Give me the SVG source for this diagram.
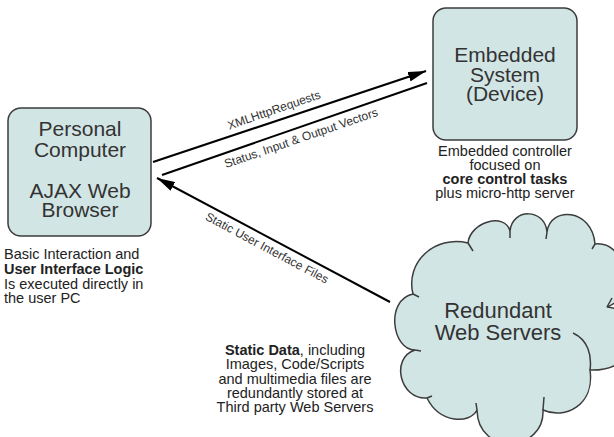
<svg xmlns="http://www.w3.org/2000/svg" width="614" height="437" viewBox="0 0 614 437">
<defs>
<style>
.node{fill:#d2e5e5;stroke:#3c3c3c;stroke-width:1.5}
.title{font-family:"Liberation Sans",Arial,sans-serif;font-size:21px;fill:#333;text-anchor:middle}
.cap{font-family:"Liberation Sans",Arial,sans-serif;font-size:14.5px;fill:#222}
.lbl{font-family:"Liberation Sans",Arial,sans-serif;font-size:12px;fill:#333;text-anchor:middle}
.b{font-weight:bold}
.conn{stroke:#000;stroke-width:2;fill:none}
</style>
<marker id="ah" viewBox="0 0 18 10" refX="18" refY="5" markerWidth="18" markerHeight="10" markerUnits="userSpaceOnUse" orient="auto">
<path d="M0,0 L18,5 L0,10 Z" fill="#000"/>
</marker>
</defs>
<rect width="614" height="437" fill="#fff"/>
<g id="pc">
<rect class="node" x="8" y="108" width="143" height="128" rx="13"/>
<text class="title" x="80" y="136">Personal</text>
<text class="title" x="80" y="157">Computer</text>
<text class="title" x="80" y="198">AJAX Web</text>
<text class="title" x="80" y="217">Browser</text>
</g>
<g id="pc-caption">
<text class="cap" x="4" y="259">Basic Interaction and</text>
<text class="cap b" x="4" y="274">User Interface Logic</text>
<text class="cap" x="4" y="289">Is executed directly in</text>
<text class="cap" x="4" y="303">the user PC</text>
</g>
<g id="embedded">
<rect class="node" x="433" y="8" width="144" height="132" rx="13"/>
<text class="title" x="505" y="62">Embedded</text>
<text class="title" x="505" y="82">System</text>
<text class="title" x="505" y="101">(Device)</text>
</g>
<g id="embedded-caption" text-anchor="middle">
<text class="cap" x="505" y="156">Embedded controller</text>
<text class="cap" x="505" y="170">focused on</text>
<text class="cap b" x="505" y="184">core control tasks</text>
<text class="cap" x="505" y="198">plus micro-http server</text>
</g>
<g id="cloud">
<path class="node" d="M413,294 C405,262 435,235 468,243 C470,222 505,212 510,231 C512,208 545,208 547,232 C550,206 592,208 595,244 C625,240 640,295 607,307 C645,310 645,372 590,370 C595,405 565,420 543,410 C545,452 478,457 477,410 C470,424 440,424 427,398 C400,400 390,358 415,350 C392,350 385,300 413,294 Z"/>
<path d="M468,243 L473,251 M510,231 L510,238 M547,232 L546,239 M595,244 L592,249 M607,307 L612,298 M573,333 C588,340 592,355 590,370 M543,410 L544,397 M477,410 L476,403 M427,398 L432,396 M415,350 L421,351 M413,294 L419,297" fill="none" stroke="#3c3c3c" stroke-width="1.5"/>
<text class="title" font-size="22" x="498" y="318" style="font-size:22px">Redundant</text>
<text class="title" x="498" y="340" style="font-size:22px">Web Servers</text>
</g>
<g id="cloud-caption" text-anchor="middle">
<text class="cap" x="295" y="355"><tspan class="b">Static Data</tspan>, including</text>
<text class="cap" x="295" y="369">Images, Code/Scripts</text>
<text class="cap" x="295" y="384">and multimedia files are</text>
<text class="cap" x="295" y="398">redundantly stored at</text>
<text class="cap" x="295" y="412">Third party Web Servers</text>
</g>
<g id="connectors">
<line class="conn" x1="153" y1="162" x2="426" y2="71" marker-end="url(#ah)"/>
<line class="conn" x1="427" y1="83" x2="162" y2="175"/>
<line class="conn" x1="390" y1="302" x2="157" y2="178" marker-end="url(#ah)"/>
<text class="lbl" transform="translate(274,110) rotate(-19)" y="4">XMLHttpRequests</text>
<text class="lbl" transform="translate(301,138) rotate(-19)" y="4">Status, Input &amp; Output Vectors</text>
<text class="lbl" transform="translate(267,248) rotate(28)" y="4">Static User Interface Files</text>
</g>
</svg>
